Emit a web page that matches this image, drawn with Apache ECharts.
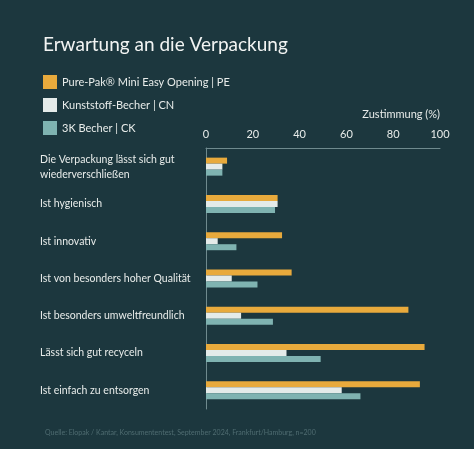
<!DOCTYPE html>
<html><head><meta charset="utf-8">
<script src="https://cdn.jsdelivr.net/npm/echarts@6/dist/echarts.min.js"></script>
<style>html,body{margin:0;background:#1c373e}#c{width:474px;height:449px}</style>
</head><body><div id="c"></div>
<script>
const categories = [
  'Die Verpackung lässt sich gut\nwiederverschließen',
  'Ist hygienisch',
  'Ist innovativ',
  'Ist von besonders hoher Qualität',
  'Ist besonders umweltfreundlich',
  'Lässt sich gut recyceln',
  'Ist einfach zu entsorgen'
]
const seriesNames = ['Pure-Pak® Mini Easy Opening | PE', 'Kunststoff-Becher | CN', '3K Becher | CK']
const pe = [9, 30.6, 32.5, 36.6, 86.5, 93.4, 91.4]
const cn = [7, 30.6, 5, 11, 15, 34.4, 58]
const ck = [7, 29.5, 13, 22, 28.6, 49, 66]
const colors = ['#e8aa3c', '#e4ebe9', '#7fb3b1']
const font = 'Lato, "Open Sans", sans-serif'

const chart = echarts.init(document.getElementById('c'))
chart.setOption({
  backgroundColor: '#1c373e',
  textStyle: { fontFamily: font },
  title: [
    { text: 'Erwartung an die Verpackung', left: 38, top: 30,
      textStyle: { color: '#f2f4f3', fontSize: 19, fontWeight: 'normal', fontFamily: font } },
    { text: 'Quelle: Elopak / Kantar, Konsumententest, September 2024, Frankfurt/Hamburg, n=200',
      left: 40, top: 424, textStyle: { color: '#4f6c71', fontSize: 7, fontWeight: 'normal', fontFamily: font } }
  ],
  legend: {
    orient: 'vertical', left: 38, top: 70, itemGap: 9, itemWidth: 14, itemHeight: 14,
    icon: 'rect', textStyle: { color: '#e8ecea', fontSize: 11 },
    data: seriesNames
  },
  grid: { left: 206, right: 34, top: 148, bottom: 40 },
  xAxis: {
    type: 'value', position: 'top', min: 0, max: 100, interval: 20,
    name: 'Zustimmung (%)', nameLocation: 'end', nameGap: 0,
    nameTextStyle: { color: '#e8ecea', fontSize: 11, align: 'right', verticalAlign: 'bottom', padding: [0, 0, 28, 0] },
    axisLine: { show: true, lineStyle: { color: '#6f8a8e' } },
    axisTick: { show: false }, splitLine: { show: false },
    axisLabel: { color: '#e8ecea', fontSize: 11, margin: 8 }
  },
  yAxis: {
    type: 'category', inverse: true, data: categories,
    axisLine: { show: true, lineStyle: { color: '#6f8a8e' } },
    axisTick: { show: false },
    axisLabel: { color: '#e8ecea', fontSize: 10.5, align: 'left', margin: 166, lineHeight: 15 }
  },
  series: [pe, cn, ck].map((d, i) => ({
    type: 'bar', name: seriesNames[i], data: d, barWidth: 6, barGap: '0%',
    itemStyle: { color: colors[i] }
  }))
})
</script></body></html>
